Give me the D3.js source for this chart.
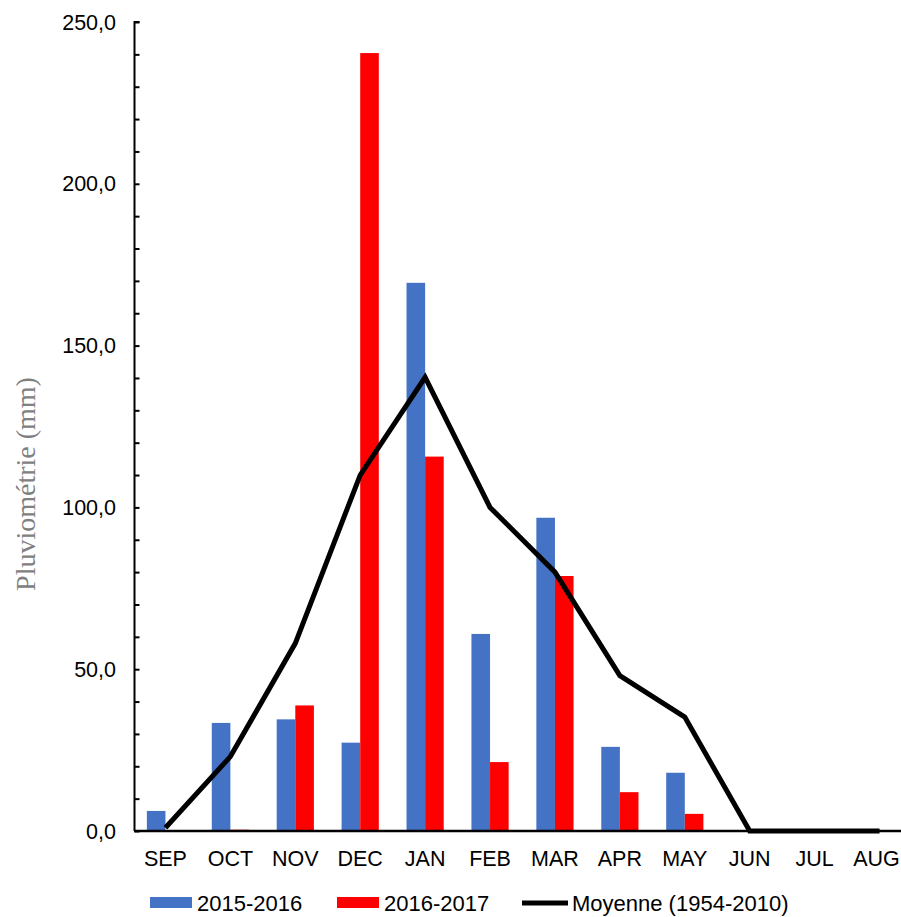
<!DOCTYPE html>
<html><head><meta charset="utf-8">
<script src="https://cdn.jsdelivr.net/npm/d3@7"></script>
<style>body{margin:0;background:#fff}svg{display:block}</style>
</head><body>
<script>
const months = ["SEP","OCT","NOV","DEC","JAN","FEB","MAR","APR","MAY","JUN","JUL","AUG"];
const s2015 = [6.2,33.4,34.5,27.3,169.4,60.9,96.8,26.0,18.0,0,0,0];
const s2016 = [0,0.4,38.8,240.4,115.7,21.3,78.8,12.0,5.3,0.5,0,0];
const moyenne = [1,23.0,58.0,110.0,140.2,100.0,80.0,48.0,35.2,0,0,0];
const yTicks = [0,50,100,150,200,250];
const seriesNames = ["2015-2016","2016-2017","Moyenne (1954-2010)"];
const colors = ["#4472C4","#FF0000","#000000"];

const W=901,H=917;
const svg=d3.select("body").append("svg").attr("width",W).attr("height",H);
const x=d3.scaleBand().domain(months).range([133,912]).paddingInner(0.427).paddingOuter(0.2135);
const y=d3.scaleLinear().domain([0,250]).range([831,22]);
const xs=d3.scaleBand().domain([0,1]).range([0,x.bandwidth()]);

const g=svg.append("g");
months.forEach((m,i)=>{
  [s2015[i],s2016[i]].forEach((v,k)=>{
    if(v<=0) return;
    g.append("rect").attr("x",x(m)+xs(k)).attr("width",xs.bandwidth())
     .attr("y",y(v)).attr("height",y(0)-y(v)).attr("fill",colors[k]);
  });
});

// y axis
const yAxis=d3.axisRight(y).tickValues(d3.range(0,251,10)).tickSize(5).tickFormat("");
const ya=svg.append("g").attr("transform","translate(134.5,0)").call(yAxis);
ya.select(".domain").attr("stroke","#000").attr("stroke-width",2).attr("d","M5,22H0V831");
ya.selectAll(".tick line").attr("stroke","#000").attr("stroke-width",2);
svg.append("g").selectAll("text").data(yTicks).join("text")
  .attr("x",116).attr("y",d=>y(d)).attr("dy","0.35em").attr("text-anchor","end")
  .attr("font-family","Liberation Sans, Arial, sans-serif").attr("font-size",21.5).attr("fill","#000")
  .text(d=>d.toFixed(1).replace(".",","));

// x axis
const xAxis=d3.axisBottom(x).tickSize(0).tickPadding(0);
const xa=svg.append("g").attr("transform","translate(0,831)").call(xAxis);
xa.select(".domain").attr("stroke","#000").attr("stroke-width",2.5).attr("d","M134,0H901");
xa.selectAll(".tick text").attr("font-family","Liberation Sans, Arial, sans-serif").attr("font-size",21.5)
  .attr("fill","#000").attr("y",35).attr("dy",0)
  .attr("x",d=>d==="AUG"?-3:0);

// line
const line=d3.line().x((d,i)=>x(months[i])+x.bandwidth()/2).y(d=>y(d));
svg.append("path").datum(moyenne).attr("d",line).attr("fill","none").attr("stroke","#000")
  .attr("stroke-width",5).attr("stroke-linejoin","miter");

// y label
svg.append("text").attr("transform","translate(35,484) rotate(-90)").attr("text-anchor","middle")
  .attr("font-family","Liberation Serif, Times New Roman, serif").attr("font-size",28).attr("fill","#808080")
  .text("Pluviométrie (mm)");

// legend
const lg=svg.append("g").attr("font-family","Liberation Sans, Arial, sans-serif").attr("font-size",22);
const lx=[150,337,522];
seriesNames.forEach((n,k)=>{
  if(k<2) lg.append("rect").attr("x",lx[k]).attr("y",897).attr("width",42).attr("height",11).attr("fill",colors[k]);
  else lg.append("line").attr("x1",lx[k]).attr("x2",lx[k]+46).attr("y1",903).attr("y2",903).attr("stroke","#000").attr("stroke-width",5);
  lg.append("text").attr("x",lx[k]+(k<2?47:50)).attr("y",911).attr("fill","#000").text(n);
});
</script>
</body></html>
